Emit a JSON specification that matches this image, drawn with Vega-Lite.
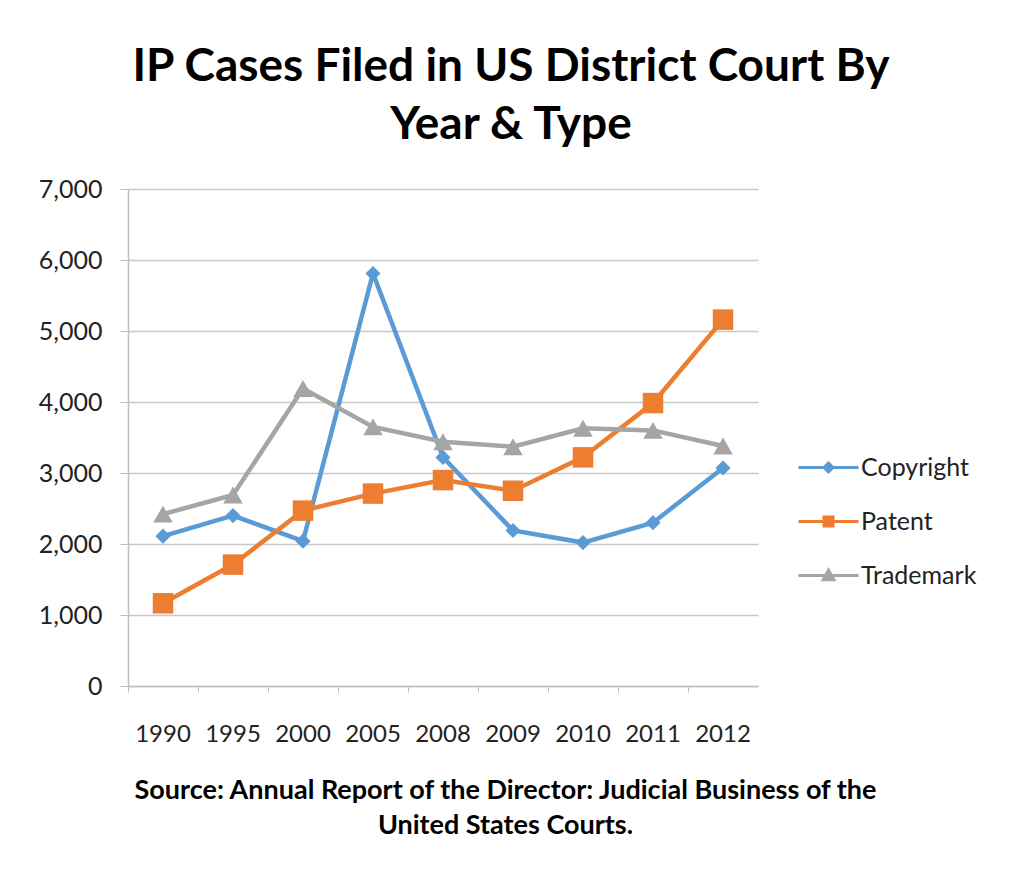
{
  "$schema": "https://vega.github.io/schema/vega-lite/v6.json",
  "autosize": "none",
  "width": 630,
  "height": 497,
  "padding": {"left": 128, "top": 189, "right": 256, "bottom": 185},
  "background": "white",
  "config": {
    "font": "Lato",
    "view": {"stroke": null}
  },
  "title": {
    "text": ["IP Cases Filed in US District Court By", "Year & Type"],
    "font": "Lato",
    "fontSize": 46,
    "fontWeight": "bold",
    "color": "black",
    "anchor": "middle",
    "frame": "group",
    "dx": 68,
    "baseline": "alphabetic",
    "lineHeight": 58,
    "offset": -8
  },
  "data": {
    "values": [
      {"year": "1990", "type": "Copyright", "cases": 2110},
      {"year": "1995", "type": "Copyright", "cases": 2400},
      {"year": "2000", "type": "Copyright", "cases": 2040},
      {"year": "2005", "type": "Copyright", "cases": 5810},
      {"year": "2008", "type": "Copyright", "cases": 3220},
      {"year": "2009", "type": "Copyright", "cases": 2190},
      {"year": "2010", "type": "Copyright", "cases": 2020},
      {"year": "2011", "type": "Copyright", "cases": 2300},
      {"year": "2012", "type": "Copyright", "cases": 3070},
      {"year": "1990", "type": "Patent", "cases": 1165},
      {"year": "1995", "type": "Patent", "cases": 1710},
      {"year": "2000", "type": "Patent", "cases": 2470},
      {"year": "2005", "type": "Patent", "cases": 2710},
      {"year": "2008", "type": "Patent", "cases": 2900},
      {"year": "2009", "type": "Patent", "cases": 2750},
      {"year": "2010", "type": "Patent", "cases": 3220},
      {"year": "2011", "type": "Patent", "cases": 3985},
      {"year": "2012", "type": "Patent", "cases": 5160},
      {"year": "1990", "type": "Trademark", "cases": 2420},
      {"year": "1995", "type": "Trademark", "cases": 2690},
      {"year": "2000", "type": "Trademark", "cases": 4190},
      {"year": "2005", "type": "Trademark", "cases": 3650},
      {"year": "2008", "type": "Trademark", "cases": 3440},
      {"year": "2009", "type": "Trademark", "cases": 3370},
      {"year": "2010", "type": "Trademark", "cases": 3630},
      {"year": "2011", "type": "Trademark", "cases": 3600},
      {"year": "2012", "type": "Trademark", "cases": 3380}
    ]
  },
  "encoding": {
    "x": {
      "field": "year",
      "type": "ordinal",
      "scale": {"type": "band", "paddingInner": 0, "paddingOuter": 0},
      "axis": {
        "title": ["Source: Annual Report of the Director: Judicial Business of the", "United States Courts."],
        "titleFont": "Lato",
        "titleFontSize": 27,
        "titleFontWeight": "bold",
        "titleColor": "black",
        "titleX": 377,
        "titleY": 112,
        "titleAnchor": null,
        "titleAlign": "center",
        "titleBaseline": "alphabetic",
        "titleLineHeight": 35,
        "labelAngle": 0,
        "labelFont": "Lato",
        "labelFontSize": 24,
        "labelColor": "#222222",
        "labelPadding": 42,
        "labelBaseline": "middle",
        "bandPosition": 0,
        "tickSize": 6,
        "tickColor": "#BFBFBF",
        "domainColor": "#BFBFBF",
        "domainWidth": 1.5,
        "grid": false
      }
    },
    "y": {
      "field": "cases",
      "type": "quantitative",
      "scale": {"domain": [0, 7000], "nice": false},
      "axis": {
        "title": null,
        "values": [0, 1000, 2000, 3000, 4000, 5000, 6000, 7000],
        "format": ",d",
        "labelFont": "Lato",
        "labelFontSize": 25,
        "labelColor": "#222222",
        "labelPadding": 18,
        "tickSize": 8,
        "tickColor": "#BFBFBF",
        "domainColor": "#BFBFBF",
        "domainWidth": 1.5,
        "gridColor": "#C8C8C8",
        "gridWidth": 1.5
      }
    },
    "color": {
      "field": "type",
      "type": "nominal",
      "scale": {"domain": ["Copyright", "Patent", "Trademark"], "range": ["#5B9BD5", "#ED7D31", "#A5A5A5"]},
      "legend": {
        "title": null,
        "orient": "none",
        "legendX": 669,
        "legendY": 247,
        "labelFont": "Lato",
        "labelFontSize": 25,
        "labelColor": "#222222",
        "labelOffset": 1,
        "symbolSize": 3600,
        "symbolStrokeWidth": 3,
        "rowPadding": 9,
        "encode": {
          "symbols": {
            "update": {
              "shape": {"signal": "datum.value === 'Copyright' ? 'M-1,0H1M0,-0.15L0.15,0L0,0.15L-0.15,0Z' : datum.value === 'Patent' ? 'M-1,0H1M-0.15,-0.15H0.15V0.15H-0.15Z' : 'M-1,0H1M0,-0.18L0.18,0.14H-0.18Z'"},
              "size": {"value": 3600},
              "strokeWidth": {"value": 3}
            }
          }
        }
      }
    }
  },
  "layer": [
    {
      "mark": {"type": "line", "strokeWidth": 4.5}
    },
    {
      "transform": [{"filter": "datum.type === 'Copyright'"}],
      "mark": {"type": "point", "filled": true, "opacity": 1, "shape": "diamond", "size": 230}
    },
    {
      "transform": [{"filter": "datum.type === 'Patent'"}],
      "mark": {"type": "point", "filled": true, "opacity": 1, "shape": "square", "size": 420}
    },
    {
      "transform": [{"filter": "datum.type === 'Trademark'"}],
      "mark": {"type": "point", "filled": true, "opacity": 1, "shape": "triangle-up", "size": 380}
    }
  ]
}
